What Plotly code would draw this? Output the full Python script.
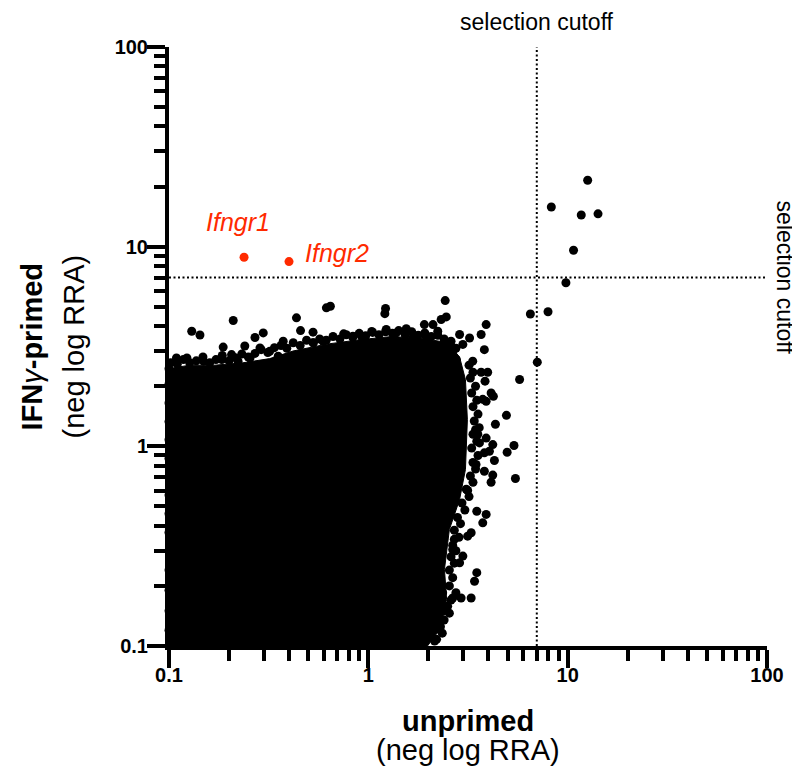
import plotly.graph_objects as go
import numpy as np

# ---- data (neg log RRA) ----
cutoff = 7.0

# dense core of the cloud (outline of the solid black region)
core_x = [0.1, 0.1, 0.127, 0.170, 0.235, 0.320, 0.418, 0.618, 0.905, 1.32, 1.96, 2.50, 2.87,
          3.07, 3.14, 3.07, 2.87, 2.55, 2.41, 2.47, 2.28, 1.98]
core_y = [0.1, 2.45, 2.55, 2.55, 2.62, 2.75, 3.0, 3.25, 3.42, 3.55, 3.45, 3.3, 2.8,
          2.16, 1.36, 0.765, 0.542, 0.383, 0.242, 0.171, 0.121, 0.1]

# genes along the top fringe of the cloud
fringe_top_x = [0.102, 0.11, 0.118, 0.127, 0.137, 0.148, 0.16, 0.172, 0.185, 0.2, 0.215, 0.232,
                0.25, 0.27, 0.29, 0.313, 0.338, 0.365, 0.39, 0.42, 0.455, 0.49, 0.53, 0.57,
                0.615, 0.665, 0.72, 0.775, 0.835, 0.9, 0.97, 1.05, 1.13, 1.22, 1.32, 1.42,
                1.53, 1.65, 1.78, 1.92, 2.07, 2.23, 2.4, 2.58, 2.75]
fringe_top_y = [2.62, 2.58, 2.72, 2.62, 2.68, 2.8, 2.62, 2.72, 2.85, 2.68, 2.78, 2.9,
                2.8, 2.92, 3.05, 2.95, 3.12, 3.2, 3.1, 3.3, 3.2, 3.4, 3.3, 3.45,
                3.4, 3.55, 3.45, 3.62, 3.52, 3.68, 3.58, 3.72, 3.62, 3.75, 3.68, 3.8,
                3.62, 3.75, 3.6, 3.7, 3.55, 3.6, 3.45, 3.3, 3.1]

# genes along the right fringe of the cloud
fringe_right_x = [3.2, 3.35, 3.25, 3.45, 3.3, 3.5, 3.35, 3.55, 3.4, 3.6, 3.35, 3.5, 3.3, 3.55,
                  3.35, 3.45, 3.25, 3.35, 3.1, 3.2, 2.95, 3.05, 2.8, 2.9, 2.7, 2.85, 2.65,
                  2.75, 2.6, 2.7, 2.55, 2.65, 2.55, 2.75, 2.6, 2.5, 2.55, 2.4, 2.3, 2.35, 2.2]
fringe_right_y = [2.55, 2.35, 2.2, 2.0, 1.85, 1.7, 1.58, 1.45, 1.34, 1.24, 1.15, 1.06, 0.98, 0.9,
                  0.83, 0.77, 0.71, 0.66, 0.61, 0.56, 0.52, 0.48, 0.44, 0.41, 0.38, 0.35, 0.32,
                  0.3, 0.28, 0.26, 0.24, 0.22, 0.2, 0.185, 0.17, 0.158, 0.146, 0.135, 0.125,
                  0.116, 0.108]

# genes sitting on the left axis
fringe_left_x = [0.1] * 15
fringe_left_y = [0.12, 0.15, 0.19, 0.24, 0.3, 0.37, 0.46, 0.57, 0.7, 0.87, 1.08, 1.33, 1.65,
                 2.05, 2.45]

# individual genes scattered around the edge of the cloud
edge_x = [0.130, 0.143, 0.210, 0.187, 0.206, 0.240, 0.270, 0.297, 0.286, 0.255, 0.184, 0.149,
          0.123, 0.109, 0.101, 0.222, 0.320, 0.374, 0.353, 0.436, 0.457, 0.528, 0.528, 0.616,
          0.645, 0.593, 0.752, 0.837, 0.923, 1.04, 1.22, 1.21, 1.23, 1.38, 1.55, 1.67, 1.91,
          2.11, 2.23, 2.32, 2.46, 2.43, 1.95, 2.60, 2.87, 3.22, 3.68, 3.90, 3.82, 2.98, 2.65,
          3.34, 2.76,
          3.97, 3.68, 3.85, 4.13, 4.24, 3.75, 3.90, 3.45, 3.54, 3.90, 3.61, 4.21, 3.82, 4.05,
          4.29, 3.82, 4.21, 4.13, 3.47, 3.15, 3.50, 3.90, 3.75, 3.28, 3.15, 2.70, 2.65, 2.98,
          2.87, 3.50, 3.41, 3.28, 2.92, 2.65, 2.36, 2.36, 2.11, 2.11, 2.28, 1.95, 2.15, 1.74]
edge_y = [3.77, 3.61, 4.27, 3.14, 2.88, 3.18, 3.51, 3.70, 3.11, 2.77, 2.72, 2.67,
          2.77, 2.77, 2.38, 2.67, 2.99, 3.36, 2.83, 4.40, 3.80, 3.73, 3.30, 4.94,
          5.03, 3.36, 3.66, 3.56, 3.56, 3.76, 4.90, 4.62, 3.85, 3.70, 3.88, 3.49, 4.07,
          4.07, 3.77, 4.32, 4.45, 5.37, 3.56, 3.36, 3.63, 3.49, 3.63, 4.07, 3.05, 3.24, 2.99,
          2.67, 2.72,
          2.35, 2.35, 2.12, 1.85, 1.78, 1.72, 1.68, 1.21, 1.15, 1.10, 1.04, 1.02, 0.928, 0.945,
          0.849, 0.750, 0.718, 0.661, 0.811, 0.601, 0.473, 0.456, 0.414, 0.369, 0.355, 0.342,
          0.304, 0.282, 0.261, 0.233, 0.211, 0.174, 0.174, 0.174, 0.185, 0.149, 0.133, 0.126,
          0.121, 0.114, 0.106, 0.108]

# genes toward / beyond the selection cutoff
top_x = [12.6, 8.28, 11.7, 14.2, 10.7, 9.8, 6.5, 7.97, 7.04, 5.74, 4.93, 4.34, 5.38, 4.97, 5.47]
top_y = [21.5, 15.8, 14.4, 14.6, 9.6, 6.6, 4.6, 4.72, 2.64, 2.16, 1.43, 1.29, 1.01, 0.934, 0.69]

# highlighted genes
hit_names = ["Ifngr1", "Ifngr2"]
hit_x = [0.238, 0.400]
hit_y = [8.85, 8.42]

tick_vals = [0.1, 1, 10, 100]
tick_text = ["0.1", "1", "10", "100"]
minor_mult = [2, 3, 4, 5, 6, 7, 8, 9]
minor_vals = [m * d for d in [0.1, 1, 10] for m in minor_mult]

FONT = "Arial, Liberation Sans, Helvetica, sans-serif"
RED = "#FF2A00"

all_x = fringe_top_x + fringe_right_x + fringe_left_x + edge_x + top_x
all_y = fringe_top_y + fringe_right_y + fringe_left_y + edge_y + top_y

fig = go.Figure()

fig.add_trace(go.Scatter(x=core_x, y=core_y, mode="lines", fill="toself",
                         fillcolor="black", line=dict(color="black", width=1),
                         hoverinfo="skip", showlegend=False))
fig.add_trace(go.Scatter(x=all_x, y=all_y, mode="markers",
                         marker=dict(color="black", size=9, line=dict(width=0)),
                         cliponaxis=False, showlegend=False))
fig.add_trace(go.Scatter(x=hit_x, y=hit_y, mode="markers",
                         marker=dict(color=RED, size=9, line=dict(width=0)),
                         cliponaxis=False, showlegend=False))

# selection cutoff lines
fig.add_trace(go.Scatter(x=[cutoff, cutoff], y=[tick_vals[0], tick_vals[-1]], mode="lines",
                         line=dict(color="black", width=2, dash="2px,2.5px"),
                         hoverinfo="skip", showlegend=False))
fig.add_trace(go.Scatter(x=[tick_vals[0], tick_vals[-1]], y=[cutoff, cutoff], mode="lines",
                         line=dict(color="black", width=2, dash="2px,2.5px"),
                         hoverinfo="skip", showlegend=False))

axis_common = dict(
    type="log", range=[-1, 2], showgrid=False, zeroline=False,
    showline=True, linecolor="black", linewidth=4,
    ticks="outside", ticklen=18, tickwidth=4, tickcolor="black",
    tickmode="array", tickvals=tick_vals, ticktext=tick_text,
    tickfont=dict(family=FONT, size=20, color="black", weight="bold"),
    minor=dict(ticks="outside", ticklen=11, tickwidth=4, tickcolor="black",
               tickmode="array", tickvals=minor_vals, showgrid=False),
)
fig.update_xaxes(**axis_common, ticklabelstandoff=-10)
fig.update_yaxes(**axis_common, ticklabelstandoff=-5)

ann = []
# point labels
ann.append(dict(x=np.log10(hit_x[0]), y=np.log10(hit_y[0]), xref="x", yref="y",
                text=f"<i>{hit_names[0]}</i>", showarrow=False, xanchor="center",
                yanchor="middle", xshift=-6, yshift=35,
                font=dict(family=FONT, size=25, color=RED)))
ann.append(dict(x=np.log10(hit_x[1]), y=np.log10(hit_y[1]), xref="x", yref="y",
                text=f"<i>{hit_names[1]}</i>", showarrow=False, xanchor="left",
                yanchor="middle", xshift=14, yshift=9,
                font=dict(family=FONT, size=25, color=RED)))
# cutoff labels
ann.append(dict(x=np.log10(cutoff), y=1, xref="x", yref="paper", text="selection cutoff",
                showarrow=False, xanchor="center", yanchor="middle", yshift=25,
                font=dict(family=FONT, size=23, color="black")))
ann.append(dict(x=1, y=np.log10(cutoff), xref="paper", yref="y", text="selection cutoff",
                showarrow=False, xanchor="center", yanchor="middle", xshift=18, textangle=90,
                font=dict(family=FONT, size=23, color="black")))
# axis titles
ann.append(dict(x=0.5, y=0, xref="paper", yref="paper", text="<b>unprimed</b>",
                showarrow=False, xanchor="center", yanchor="middle", yshift=-75,
                font=dict(family=FONT, size=29, color="black")))
ann.append(dict(x=0.5, y=0, xref="paper", yref="paper", text="(neg log RRA)",
                showarrow=False, xanchor="center", yanchor="middle", yshift=-104,
                font=dict(family=FONT, size=29, color="black")))
ann.append(dict(x=0, y=0.5, xref="paper", yref="paper",
                text="<b>IFN</b><i>γ</i><b>-primed</b>",
                showarrow=False, xanchor="center", yanchor="middle", xshift=-138, textangle=-90,
                font=dict(family=FONT, size=29, color="black")))
ann.append(dict(x=0, y=0.5, xref="paper", yref="paper", text="(neg log RRA)",
                showarrow=False, xanchor="center", yanchor="middle", xshift=-96, textangle=-90,
                font=dict(family=FONT, size=29, color="black")))

# the page body adds an 8px margin, so the figure is 8px smaller and its margins shifted
fig.update_layout(
    width=792, height=762,
    margin=dict(l=161, r=33, t=39, b=124),
    plot_bgcolor="white", paper_bgcolor="white",
    showlegend=False, annotations=ann,
    font=dict(family=FONT, color="black"),
)

fig.write_html("out.html")
